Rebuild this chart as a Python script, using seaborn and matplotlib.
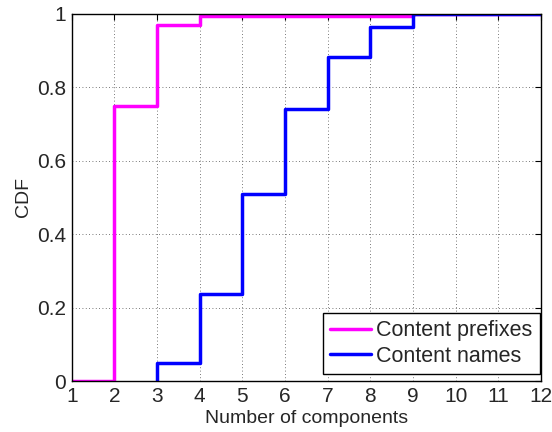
import numpy as np
import pandas as pd
import matplotlib
matplotlib.use('Agg')
import matplotlib.pyplot as plt
import seaborn as sns

# CDF values
prefix_x = [1, 2, 3, 4, 9, 12]
prefix_cdf = [0.0, 0.75, 0.97, 0.995, 1.0, 1.0]
name_x = [3, 3, 4, 5, 6, 7, 8, 9, 12]
name_cdf = [0.0, 0.05, 0.236, 0.51, 0.742, 0.883, 0.965, 1.0, 1.0]
x_ticks = list(range(1, 13))
y_ticks = [0, 0.2, 0.4, 0.6, 0.8, 1]
y_labels = ['0', '0.2', '0.4', '0.6', '0.8', '1']

sns.set_style('white')
plt.rcParams['font.family'] = ['Liberation Sans', 'DejaVu Sans']

prefixes = pd.DataFrame({'x': prefix_x, 'cdf': prefix_cdf})
names = pd.DataFrame({'x': name_x, 'cdf': name_cdf})

fig = plt.figure(figsize=(5.52, 4.32), dpi=100)
ax = fig.add_axes([0.130, 0.118, 0.850, 0.850])

sns.lineplot(data=prefixes, x='x', y='cdf', ax=ax, color='#ff00ff', linewidth=2.5,
             drawstyle='steps-post', estimator=None, sort=False, label='Content prefixes')
sns.lineplot(data=names, x='x', y='cdf', ax=ax, color='#0000ff', linewidth=2.5,
             drawstyle='steps-post', estimator=None, sort=False, label='Content names')

ax.set_xlim(1, 12)
ax.set_ylim(0, 1)
ax.set_xticks(x_ticks)
ax.set_yticks(y_ticks)
ax.set_yticklabels(y_labels)
ax.tick_params(direction='in', top=True, right=True, labelsize=15, length=4,
               color='black', pad=4)
ax.grid(True, linestyle=(0, (1, 3)), color='black', linewidth=0.6, alpha=0.7)
for s in ax.spines.values():
    s.set_color('black')
    s.set_linewidth(1.0)
ax.set_xlabel('Number of components', fontsize=14, labelpad=3)
ax.set_ylabel('CDF', fontsize=14, labelpad=4)

leg = ax.legend(loc='lower right', bbox_to_anchor=(0.998, 0.019), fontsize=15.5,
                fancybox=False, framealpha=1, edgecolor='black', handlelength=1.9,
                handletextpad=0.23, borderaxespad=0.0, labelspacing=0.2, borderpad=0.35)
leg.get_frame().set_linewidth(1.0)

plt.savefig('out.png', dpi=100)
